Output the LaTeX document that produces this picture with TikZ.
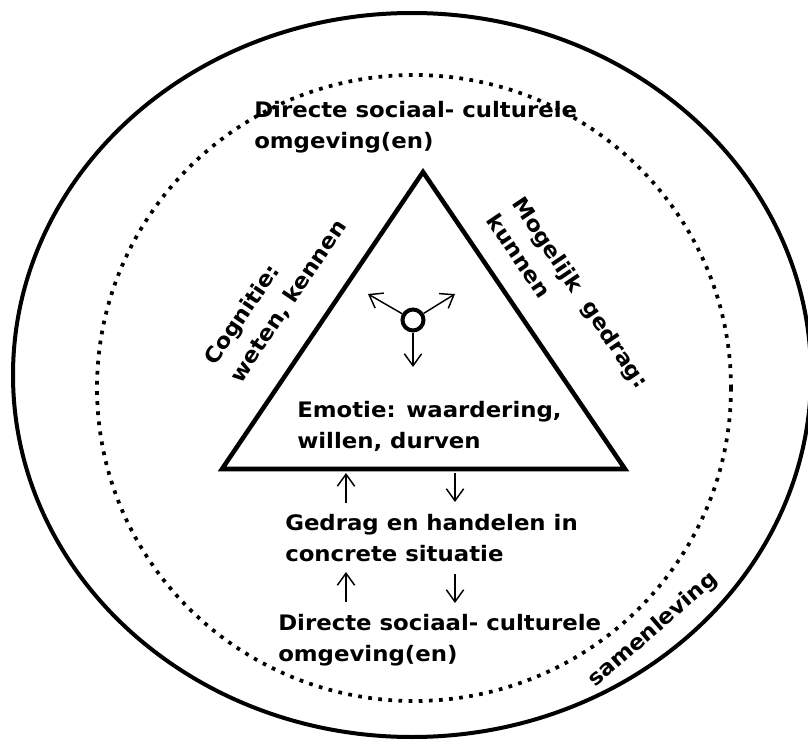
\documentclass[tikz,border=0pt]{standalone}
\usepackage{fontspec}
\setmainfont{DejaVu Sans}[FakeStretch=1.07]
\usetikzlibrary{arrows.meta}
\tikzset{
  tekst/.style={font=\fontsize{16}{23.2}\selectfont\bfseries, align=left, inner sep=0pt},
  pijl/.style={line width=1.1pt, -{Straight Barb[length=9pt,width=13pt,line width=1.1pt]}}
}
\begin{document}
\begin{tikzpicture}[x=0.75pt,y=0.75pt,yscale=-1,xscale=1]
\useasboundingbox (0,0) rectangle (808,742);

%Shape: Ellipse samenleving
\draw [line width=3pt] (412,375) ellipse (399 and 362);
%Shape: Ellipse omgeving (dotted)
\draw [line width=2.8pt, dash pattern=on 2.8pt off 4.8pt] (414,388) ellipse (317 and 313);

%Shape: Triangle
\draw [line width=3.4pt, line join=miter] (423,172) -- (625,469) -- (222,469) -- cycle ;

% Centre symbol
\node (kern) [circle, draw, line width=3pt, minimum size=15.75pt, inner sep=0pt] at (413,320) {};
\coordinate (linksboven) at (368,294);
\coordinate (rechtsboven) at (455,294);
\coordinate (onder) at (413,367);
\draw [pijl] (kern) -- (linksboven);
\draw [pijl] (kern) -- (rechtsboven);
\draw [pijl] (kern) -- (onder);

% Text Node
\draw (254,101) node (omgevingboven) [anchor=north west][tekst] {Directe sociaal- culturele\\omgeving(en)};
% Text Node
\draw (297,401) node (emotie) [anchor=north west][tekst] {Emotie: waardering,\\willen, durven};
% Text Node
\draw (285,514) node (gedrag) [anchor=north west][tekst] {Gedrag en handelen in\\concrete situatie};
% Text Node
\draw (278,614) node (omgevingonder) [anchor=north west][tekst] {Directe sociaal- culturele\\omgeving(en)};
% Text Node
\draw (276,293) node (cognitie) [rotate=56][tekst] {Cognitie:\\weten, kennen};
% Text Node
\draw (568,301) node (mogelijk) [rotate=-56][tekst] {Mogelijk\ \ gedrag:\\kunnen};
% Text Node
\draw (653,630) node (samenleving) [rotate=41][tekst] {samenleving};

% Arrows between triangle and behaviour
\coordinate (op1a) at (346,503);
\coordinate (op1b) at (346,473);
\coordinate (neer1a) at (455,473);
\coordinate (neer1b) at (455,502);
\coordinate (op2a) at (346,602);
\coordinate (op2b) at (346,572);
\coordinate (neer2a) at (455,574);
\coordinate (neer2b) at (455,603);
\draw [pijl] (op1a) -- (op1b);
\draw [pijl] (neer1a) -- (neer1b);
\draw [pijl] (op2a) -- (op2b);
\draw [pijl] (neer2a) -- (neer2b);

\end{tikzpicture}
\end{document}
